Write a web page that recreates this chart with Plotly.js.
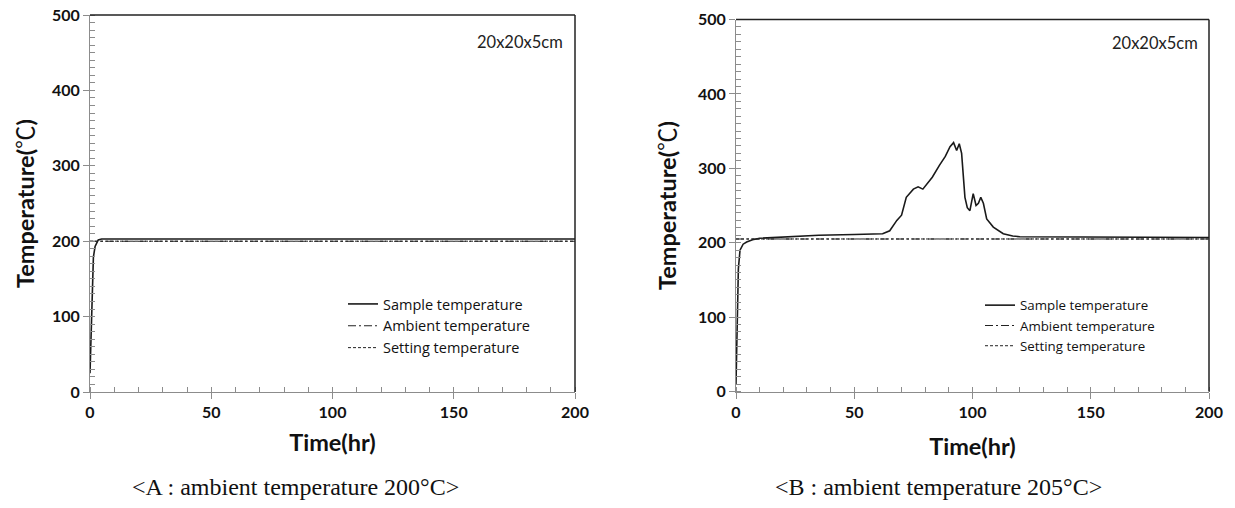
<!DOCTYPE html>
<html><head><meta charset="utf-8">
<script src="https://cdn.plot.ly/plotly-3.0.1.min.js"></script>
<style>body{margin:0;background:#fff}#c{width:1235px;height:508px}</style>
</head><body><div id="c"></div>
<script>
// Panel A data (ambient 200°C)
const timeA = [0, 0.7, 1.4, 2.1, 3.4, 4.8, 10, 200];
const sampleA = [25, 122, 179, 193, 201.6, 203, 203, 203];
const timeRef = [0, 200];
const ambientA = [200, 200];
const settingA = [200, 200];
// Panel B data (ambient 205°C)
const timeB = [0,0.5,1,1.7,3,4.5,7,10,20,35,50,62,65,67,68,70,72,75,77,79,83,86,88.5,90.5,92,93.3,94.4,95.4,96.8,97.8,98.9,100.3,101.5,102.5,103.5,104.6,106,108.8,113,117,120,200];
const sampleB = [10,120,165,190,198,201,204,206,208,210,211,212,216,225,230,237,261,272,275,272,288,304,316,329,334.5,324,333,320,261,247,243,266,250,253,261,253,232,221,212,209,208,207];
const ambientB = [205, 205];
const settingB = [205, 205];
const names = ['Sample temperature', 'Ambient temperature', 'Setting temperature'];
const xTicks = [0, 50, 100, 150, 200];
const yTicks = [0, 100, 200, 300, 400, 500];

const sampleLine = {color: '#1a1a1a', width: 1.6};
const ambLine = {color: '#222', width: 1.1, dash: '8px,3px,2px,3px'};
const setLine = {color: '#222', width: 1, dash: '3px,2px'};

const traces = [
  {x: timeA, y: sampleA, name: names[0], mode: 'lines', line: sampleLine, xaxis: 'x', yaxis: 'y', legend: 'legend', legendgroup: 'a1'},
  {x: timeRef, y: ambientA, name: names[1], mode: 'lines', line: ambLine, xaxis: 'x', yaxis: 'y', legend: 'legend', legendgroup: 'a2'},
  {x: timeRef, y: settingA, name: names[2], mode: 'lines', line: setLine, xaxis: 'x', yaxis: 'y', legend: 'legend', legendgroup: 'a3'},
  {x: timeB, y: sampleB, name: names[0], mode: 'lines', line: sampleLine, xaxis: 'x2', yaxis: 'y2', legend: 'legend2', legendgroup: 'b1'},
  {x: timeRef, y: ambientB, name: names[1], mode: 'lines', line: ambLine, xaxis: 'x2', yaxis: 'y2', legend: 'legend2', legendgroup: 'b2'},
  {x: timeRef, y: settingB, name: names[2], mode: 'lines', line: setLine, xaxis: 'x2', yaxis: 'y2', legend: 'legend2', legendgroup: 'b3'}
];

function xa(domain, anchor, standoff) {
  return {
    domain: domain, anchor: anchor, range: [0, 200], tickvals: xTicks, ticktext: xTicks.map(String),
    showgrid: false, zeroline: false, showline: true, linecolor: '#8c8c8c', linewidth: 1,
    ticks: 'outside', ticklen: 6, tickcolor: '#8c8c8c',
    minor: {dtick: 10, ticks: 'inside', ticklen: 5, tickcolor: '#8c8c8c', showgrid: false},
    tickfont: {family: 'Lato', size: 16, weight: 'bold', color: '#111'},
    title: {text: 'Time(hr)', font: {family: 'Lato', size: 23.5, weight: 'bold', color: '#111'}, standoff: standoff},
    automargin: false, fixedrange: true
  };
}
function ya(domain, anchor, standoff) {
  return {
    domain: domain, anchor: anchor, range: [0, 500], tickvals: yTicks, ticktext: yTicks.map(String),
    showgrid: false, zeroline: false, showline: true, linecolor: '#8c8c8c', linewidth: 1,
    ticks: 'outside', ticklen: 6, tickcolor: '#8c8c8c',
    minor: {dtick: 10, ticks: 'inside', ticklen: 5, tickcolor: '#8c8c8c', showgrid: false},
    tickfont: {family: 'Lato', size: 16, weight: 'bold', color: '#111'},
    title: {text: 'Temperature(<span style="font-family:Noto Sans CJK JP;font-weight:normal">℃</span>)', font: {family: 'Lato', size: 23.5, weight: 'bold', color: '#111'}, standoff: standoff},
    automargin: false, fixedrange: true
  };
}

const legendBase = {
  bgcolor: 'rgba(0,0,0,0)', borderwidth: 0,
  xanchor: 'left', yanchor: 'top', xref: 'paper', yref: 'paper',
  itemwidth: 30, traceorder: 'grouped', tracegroupgap: 0
};

function border(xr, yr) {
  return [
    {type: 'line', xref: xr + ' domain', yref: yr + ' domain', x0: 0, x1: 1, y0: 1, y1: 1, line: {color: '#222', width: 1.5}},
    {type: 'line', xref: xr + ' domain', yref: yr + ' domain', x0: 1, x1: 1, y0: 0, y1: 1, line: {color: '#222', width: 1.5}}
  ];
}

const layout = {
  width: 1235, height: 508, margin: {l: 0, r: 0, t: 0, b: 0},
  paper_bgcolor: '#fff', plot_bgcolor: '#fff', showlegend: true,
  xaxis: xa([90/1235, 575/1235], 'y', 14),
  yaxis: ya([1 - 392/508, 1 - 15/508], 'x', 10),
  xaxis2: xa([736/1235, 1209/1235], 'y2', 18),
  yaxis2: ya([1 - 391.5/508, 1 - 19.5/508], 'x2', 14),
  legend: Object.assign({}, legendBase, {x: 343/1235, y: 1 - 288/508, font: {family: 'Open Sans', size: 14.5, color: '#111'}}),
  legend2: Object.assign({}, legendBase, {x: 980/1235, y: 1 - 290/508, font: {family: 'Open Sans', size: 13.3, color: '#111'}}),
  shapes: border('x', 'y').concat(border('x2', 'y2')),
  annotations: [
    {text: '20x20x5cm', xref: 'paper', yref: 'paper', x: 565/1235, y: 1 - 42/508, xanchor: 'right', yanchor: 'middle', showarrow: false, font: {family: 'Lato', size: 16.5, color: '#222'}},
    {text: '20x20x5cm', xref: 'paper', yref: 'paper', x: 1200/1235, y: 1 - 43/508, xanchor: 'right', yanchor: 'middle', showarrow: false, font: {family: 'Lato', size: 16.5, color: '#222'}},
    {text: '&lt;A : ambient temperature 200°C&gt;', xref: 'paper', yref: 'paper', x: 295/1235, y: 1 - 487/508, xanchor: 'center', yanchor: 'middle', showarrow: false, font: {family: 'Liberation Serif', size: 24, color: '#111'}},
    {text: '&lt;B : ambient temperature 205°C&gt;', xref: 'paper', yref: 'paper', x: 938/1235, y: 1 - 487/508, xanchor: 'center', yanchor: 'middle', showarrow: false, font: {family: 'Liberation Serif', size: 24, color: '#111'}}
  ]
};

Plotly.newPlot('c', traces, layout, {displayModeBar: false, staticPlot: true});
</script></body></html>
